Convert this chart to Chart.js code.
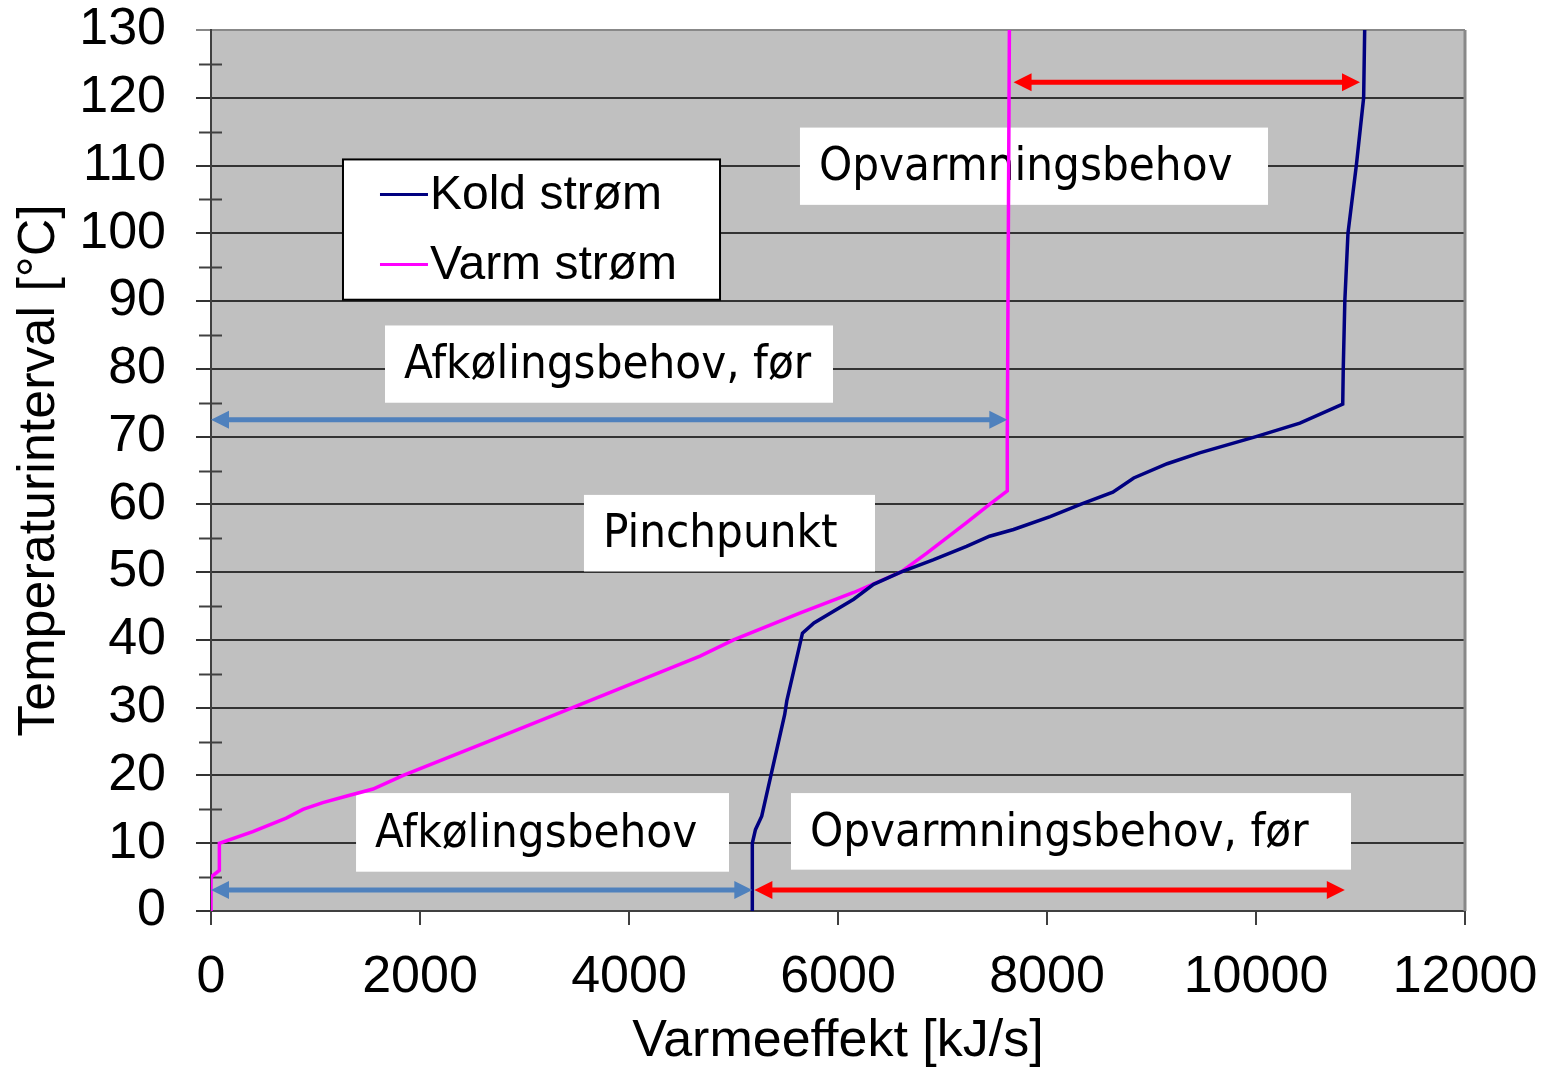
<!DOCTYPE html>
<html>
<head>
<meta charset="utf-8">
<script src="https://cdn.jsdelivr.net/npm/chart.js@4.4.1/dist/chart.umd.min.js"></script>
<style>
  html, body { margin: 0; padding: 0; background: #fff; }
  canvas { display: block; }
</style>
</head>
<body>
<canvas id="pinch" width="1548" height="1068"></canvas>
<script>
// Kold strøm - heat load [kJ/s] and temperature [°C]
const coldQ = [5180, 5180, 5210, 5270, 5490, 5510, 5660, 5770, 6150, 6340, 6600, 6910, 7230, 7450, 7680, 8030, 8320, 8630, 8830, 9150, 9460, 10000, 10420, 10830, 10835, 10850, 10880, 10960, 11030, 11040];
const coldT = [0, 10, 12, 14, 29, 31, 41, 42.5, 46, 48.2, 50, 51.8, 53.8, 55.3, 56.3, 58.2, 60, 61.8, 63.9, 66, 67.6, 70, 72, 74.8, 80, 90, 100, 110, 120, 130];
// Varm strøm
const hotQ = [0, 0, 80, 80, 400, 720, 880, 1070, 1310, 1550, 1840, 2650, 3460, 4100, 4680, 5000, 5640, 6150, 6600, 6850, 7230, 7450, 7620, 7620, 7640];
const hotT = [0, 5, 6, 10, 11.7, 13.7, 15, 16, 17, 18, 20, 25, 30, 34, 37.6, 40, 44, 47, 50, 52.8, 57.3, 60, 62, 70, 130];

const seriesNames = ['Kold strøm', 'Varm strøm'];
const xTicks = [0, 2000, 4000, 6000, 8000, 10000, 12000];
const yTicks = [0, 10, 20, 30, 40, 50, 60, 70, 80, 90, 100, 110, 120, 130];
const yMinor = [5, 15, 25, 35, 45, 55, 65, 75, 85, 95, 105, 115, 125];

// text boxes on the plot (data coordinates)
const notes = [
  { text: 'Opvarmningsbehov', q1: 5636, q2: 10115, t1: 115.6, t2: 104.2 },
  { text: 'Afkølingsbehov, før', q1: 1665, q2: 5952, t1: 86.4, t2: 75.0 },
  { text: 'Pinchpunkt', q1: 3569, q2: 6354, t1: 61.4, t2: 50.1 },
  { text: 'Afkølingsbehov', q1: 1388, q2: 4957, t1: 17.4, t2: 5.8 },
  { text: 'Opvarmningsbehov, før', q1: 5550, q2: 10909, t1: 17.4, t2: 6.1 }
];
// double arrows
const arrows = [
  { from: 0, to: 7620, at: 72.5, color: '#4F81BD' },
  { from: 0, to: 5180, at: 3.1, color: '#4F81BD' },
  { from: 5200, to: 10850, at: 3.1, color: '#FF0000' },
  { from: 7680, to: 10995, at: 122.3, color: '#FF0000' }
];
const legendBox = { q1: 1263, q2: 4871, t1: 110.9, t2: 90.2 };

const tickFont = { family: 'Liberation Sans, Arial, sans-serif', size: 52, lineHeight: 1 };
const noteFont = '47px "DejaVu Sans Condensed", "DejaVu Sans", sans-serif';

function toPoints(qs, ts) {
  return qs.map((q, i) => ({ x: q, y: ts[i] }));
}

const decor = {
  id: 'decor',
  beforeDraw(chart) {
    const { ctx, chartArea: a } = chart;
    ctx.save();
    ctx.fillStyle = '#C0C0C0';
    ctx.fillRect(a.left, a.top, a.right - a.left, a.bottom - a.top);
    ctx.restore();
  },
  beforeDatasetsDraw(chart) {
    const { ctx, chartArea: a, scales: { x, y } } = chart;
    ctx.save();
    // minor ticks crossing the y axis
    ctx.strokeStyle = '#404040';
    ctx.lineWidth = 2;
    yMinor.forEach(v => {
      const yy = Math.round(y.getPixelForValue(v)) + 0.5;
      ctx.beginPath();
      ctx.moveTo(a.left - 12, yy);
      ctx.lineTo(a.left + 11, yy);
      ctx.stroke();
    });
    // right border
    ctx.strokeStyle = '#888';
    ctx.lineWidth = 3;
    ctx.beginPath();
    ctx.moveTo(a.right, a.top);
    ctx.lineTo(a.right, a.bottom);
    ctx.stroke();

    // white text boxes
    ctx.font = noteFont;
    ctx.textBaseline = 'middle';
    notes.forEach(n => {
      const l = x.getPixelForValue(n.q1), r = x.getPixelForValue(n.q2);
      const t = y.getPixelForValue(n.t1), b = y.getPixelForValue(n.t2);
      ctx.fillStyle = '#fff';
      ctx.fillRect(l, t, r - l, b - t);
      ctx.fillStyle = '#000';
      ctx.fillText(n.text, l + 19, (t + b) / 2 + 2);
    });

    // legend
    const l = x.getPixelForValue(legendBox.q1), r = x.getPixelForValue(legendBox.q2);
    const t = y.getPixelForValue(legendBox.t1), b = y.getPixelForValue(legendBox.t2);
    ctx.fillStyle = '#fff';
    ctx.fillRect(l, t, r - l, b - t);
    ctx.strokeStyle = '#000';
    ctx.lineWidth = 2;
    ctx.strokeRect(l, t, r - l, b - t);
    ctx.font = '48px "Liberation Sans", Arial, sans-serif';
    chart.data.datasets.forEach((ds, i) => {
      const yy = t + 35 + i * 70;
      ctx.strokeStyle = ds.borderColor;
      ctx.lineWidth = 3;
      ctx.beginPath();
      ctx.moveTo(l + 37, yy);
      ctx.lineTo(l + 85, yy);
      ctx.stroke();
      ctx.fillStyle = '#000';
      ctx.fillText(ds.label, l + 87, yy + 1);
    });
    ctx.restore();
  },
  afterDatasetsDraw(chart) {
    const { ctx, scales: { x, y } } = chart;
    ctx.save();
    arrows.forEach(ar => {
      const x1 = x.getPixelForValue(ar.from), x2 = x.getPixelForValue(ar.to);
      const yy = y.getPixelForValue(ar.at);
      const head = 18, half = 9;
      ctx.strokeStyle = ar.color;
      ctx.fillStyle = ar.color;
      ctx.lineWidth = 5;
      ctx.beginPath();
      ctx.moveTo(x1 + head - 2, yy);
      ctx.lineTo(x2 - head + 2, yy);
      ctx.stroke();
      ctx.beginPath();
      ctx.moveTo(x1, yy);
      ctx.lineTo(x1 + head, yy - half);
      ctx.lineTo(x1 + head, yy + half);
      ctx.closePath();
      ctx.fill();
      ctx.beginPath();
      ctx.moveTo(x2, yy);
      ctx.lineTo(x2 - head, yy - half);
      ctx.lineTo(x2 - head, yy + half);
      ctx.closePath();
      ctx.fill();
    });
    ctx.restore();
  }
};

new Chart(document.getElementById('pinch'), {
  type: 'scatter',
  data: {
    datasets: [
      {
        label: seriesNames[0],
        data: toPoints(coldQ, coldT),
        showLine: true,
        borderColor: '#000080',
        borderWidth: 3.5,
        pointRadius: 0,
        tension: 0
      },
      {
        label: seriesNames[1],
        data: toPoints(hotQ, hotT),
        showLine: true,
        borderColor: '#FF00FF',
        borderWidth: 3.5,
        pointRadius: 0,
        tension: 0
      }
    ]
  },
  options: {
    responsive: false,
    animation: false,
    layout: { padding: { top: 30, right: 83, left: 0, bottom: 0 } },
    plugins: { legend: { display: false }, tooltip: { enabled: false } },
    scales: {
      x: {
        type: 'linear',
        min: 0,
        max: 12000,
        afterBuildTicks: s => { s.ticks = xTicks.map(v => ({ value: v })); },
        afterFit: s => { s.height = 157; s.paddingLeft = 0; s.paddingRight = 0; },
        ticks: { font: tickFont, color: '#000', padding: 27, maxRotation: 0, callback: v => String(v) },
        grid: { drawOnChartArea: false, drawTicks: true, tickLength: 14, color: '#404040', lineWidth: 2 },
        border: { color: '#404040', width: 2 },
        title: { display: true, text: 'Varmeeffekt [kJ/s]', font: tickFont, color: '#000', padding: 0 }
      },
      y: {
        min: 0,
        max: 130,
        afterBuildTicks: s => { s.ticks = yTicks.map(v => ({ value: v })); },
        afterFit: s => { s.width = 211; s.paddingTop = 0; s.paddingBottom = 0; },
        ticks: { font: tickFont, color: '#000', padding: 30 },
        grid: {
          drawTicks: true,
          tickLength: 15,
          lineWidth: 2,
          color: c => (c.tick && c.tick.value === 130 ? '#888' : '#333')
        },
        border: { color: '#404040', width: 2 },
        title: { display: true, text: 'Temperaturinterval [°C]', font: tickFont, color: '#000', padding: { top: 14, bottom: 0 } }
      }
    }
  },
  plugins: [decor]
});
</script>
</body>
</html>
